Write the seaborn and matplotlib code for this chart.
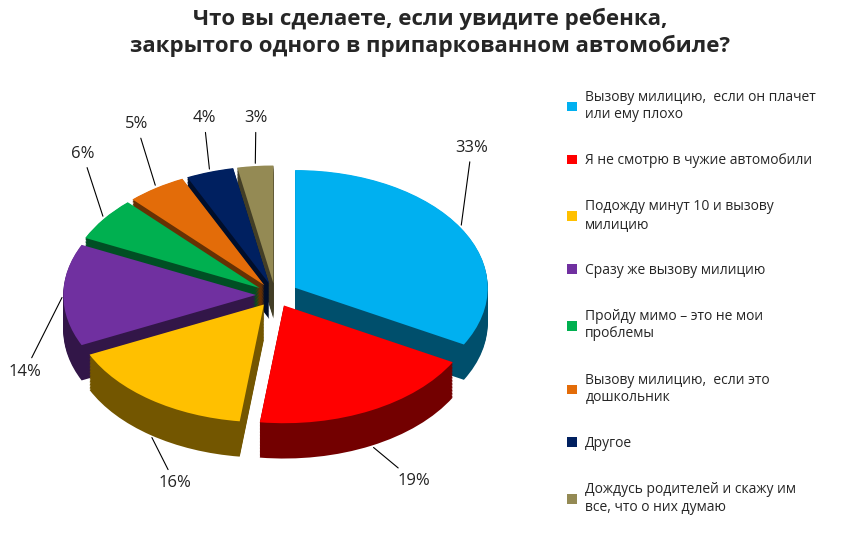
import numpy as np
import matplotlib
matplotlib.use("Agg")
import matplotlib.pyplot as plt
import seaborn as sns
from matplotlib.colors import to_rgb
from matplotlib.patches import Patch

sns.set_theme(style="white")
plt.rcParams['font.family'] = ['Open Sans', 'DejaVu Sans']

categories = ["Вызову милицию,  если он плачет\nили ему плохо",
              "Я не смотрю в чужие автомобили",
              "Подожду минут 10 и вызову\nмилицию",
              "Сразу же вызову милицию",
              "Пройду мимо – это не мои\nпроблемы",
              "Вызову милицию,  если это\nдошкольник",
              "Другое",
              "Дождусь родителей и скажу им\nвсе, что о них думаю"]
values = [33, 19, 16, 14, 6, 5, 4, 3]
colors = ["#00B0F0", "#FF0000", "#FFC000", "#7030A0", "#00B050", "#E36C09", "#002060", "#948A54"]
explode = [0.12, 0.1, 0.1, 0.1, 0.1, 0.1, 0.1, 0.1]

fig = plt.figure(figsize=(8.6, 5.33), dpi=100)
ax = fig.add_axes([0.04, 0.06, 0.56, 0.74])

dark = [tuple(c * 0.45 for c in to_rgb(col)) for col in colors]
depth = 0.3
for d in np.linspace(depth, 0.005, 25):
    ax.pie(values, colors=dark, startangle=90, counterclock=False, explode=explode,
           center=(0, -d), wedgeprops=dict(linewidth=0))
wedges, _ = ax.pie(values, colors=colors, startangle=90, counterclock=False, explode=explode,
                   wedgeprops=dict(linewidth=0))
ax.set_aspect('auto')
ax.set_xlim(-1.25, 1.25)
ax.set_ylim(-1.75, 1.6)

label_pos = [(1.02, 1.25), (0.72, -1.58), (-0.52, -1.6), (-1.3, -0.65),
             (-1.0, 1.2), (-0.72, 1.45), (-0.37, 1.5), (-0.1, 1.5)]
for w, v, (lx, ly) in zip(wedges, values, label_pos):
    ang = np.deg2rad((w.theta1 + w.theta2) / 2)
    cx, cy = w.center
    px, py = cx + 1.0 * np.cos(ang), cy + 1.0 * np.sin(ang)
    if py < 0:
        py -= depth
    ax.annotate(f"{v}%", xy=(px, py), xytext=(lx, ly), ha='center', va='center',
                fontsize=12, color='#222222', annotation_clip=False,
                arrowprops=dict(arrowstyle='-', color='black', lw=0.8))

fig.suptitle("Что вы сделаете, если увидите ребенка,\nзакрытого одного в припаркованном автомобиле?",
             x=0.5, y=0.985, fontsize=16, fontweight='bold', linespacing=1.3)

handles = [Patch(facecolor=c, edgecolor='none') for c in colors]
fig.legend(handles, categories, loc='upper left', bbox_to_anchor=(0.645, 0.855),
           frameon=False, fontsize=10, handlelength=0.7, handleheight=0.7,
           labelspacing=2.25, handletextpad=0.6)

fig.savefig("out.png", dpi=100)
